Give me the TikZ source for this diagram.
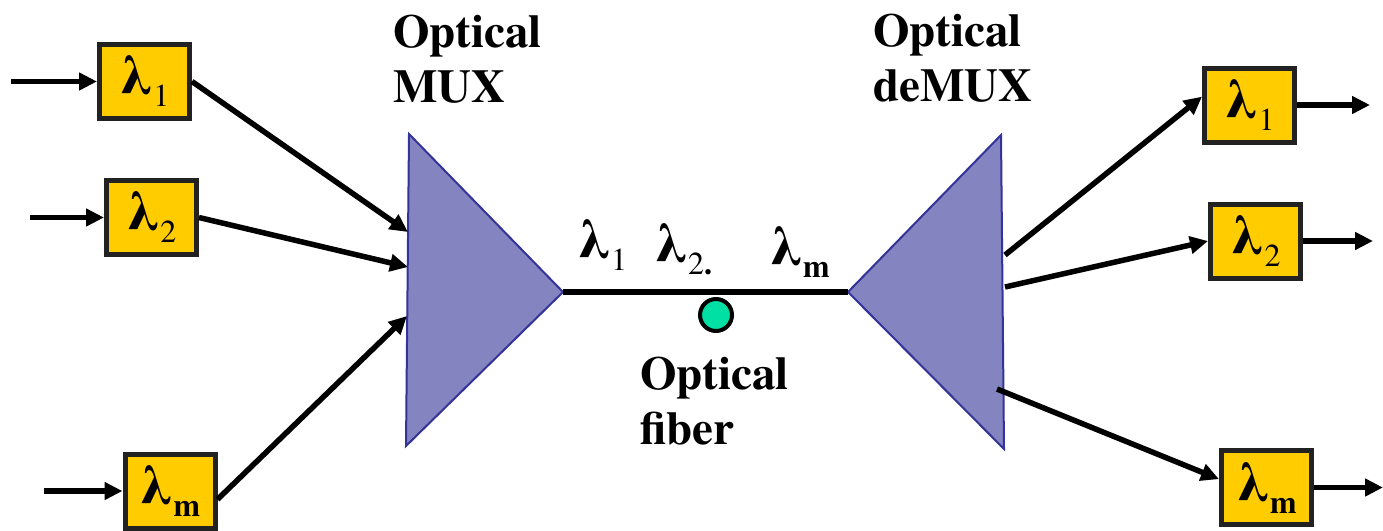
\documentclass[tikz,border=0pt]{standalone}
\usepackage{fontspec}
\setmainfont{texgyretermes}[Extension=.otf, UprightFont=*-regular, BoldFont=*-bold]
\usepackage{xcolor}
\usepackage{tikz}
\usetikzlibrary{arrows.meta}
\definecolor{figline}{RGB}{0,0,0}
\definecolor{figedge}{RGB}{34,34,34}
\definecolor{figbox}{RGB}{255,204,0}
\definecolor{figprism}{RGB}{132,132,192}
\definecolor{figprismline}{RGB}{51,51,153}
\definecolor{figcore}{RGB}{0,224,164}
\newcommand{\wl}[1]{{\fontsize{57}{57}\selectfont\bfseries λ}\raisebox{-12pt}{\fontsize{32}{32}\selectfont #1}}
\tikzset{
  wbox/.style ={draw=figedge, fill=figbox, line width=5pt, minimum width=90pt, minimum height=74pt, inner sep=0pt},
  prism/.style={draw=figprismline, fill=figprism, line width=2pt, line join=miter},
  lab/.style  ={font=\fontsize{47}{55}\selectfont\bfseries, align=left, inner sep=0pt, anchor=north west},
  wlab/.style ={inner sep=0pt, anchor=base west},
  ptr/.style  ={draw=figline, line width=5.5pt, -{Triangle[length=18pt,width=17pt]}},
  fib/.style  ={draw=figline, line width=5.5pt},
}
\begin{document}
\begin{tikzpicture}[x=1pt,y=-1pt]
  \useasboundingbox (0,0) rectangle (1383,530);
  % mux / demux
  \draw[prism] (409,134) -- (406,446) -- (563,292) -- cycle;
  \draw[prism] (1001,135) -- (1004,449) -- (848,292) -- cycle;
  \coordinate (mux) at (563,292);
  \coordinate (dmx) at (848,292);
  \coordinate (ma) at (408,232);
  \coordinate (mb) at (408,267);
  \coordinate (mc) at (407,316);
  \coordinate (da) at (1005,255);
  \coordinate (db) at (1005,287);
  \coordinate (dc) at (997,389);
  % fiber
  \draw[fib] (mux) -- (dmx);
  \node[circle, draw=figline, fill=figcore, line width=4pt, minimum size=32pt, inner sep=0pt] (core) at (716,315) {};
  \node[wlab] (w1) at (577,258) {\wl{1}};
  \node[wlab] (w2) at (654,262) {\wl{2\textbf{.}}};
  \node[wlab] (wm) at (769,265) {\wl{\textbf{m}}};
  % labels
  \node[lab] (muxlab) at (393,15) {Optical\\MUX};
  \node[lab] (dmxlab) at (873,14) {Optical\\deMUX};
  \node[lab] (fiblab) at (640,357) {Optical\\fiber};
  % inputs
  \node[wbox] (l1) at (144.5,81.5) {\wl{1}};
  \node[wbox] (l2) at (151.5,217.5) {\wl{2}};
  \node[wbox] (lm) at (170,491) {\wl{\textbf{m}}};
  \coordinate (in1) at (11,81.5);
  \coordinate (in2) at (30,217.5);
  \coordinate (inm) at (44,491);
  \draw[ptr] (in1) -- (l1.west);
  \draw[ptr] (in2) -- (l2.west);
  \draw[ptr] (inm) -- (lm.west);
  \draw[ptr] (l1.east) -- (ma);
  \draw[ptr] (l2.east) -- (mb);
  \draw[ptr] (lm.-10) -- (mc);
  % outputs
  \node[wbox] (r1) at (1249.5,105) {\wl{1}};
  \node[wbox] (r2) at (1255.5,241) {\wl{2}};
  \node[wbox] (rm) at (1266.5,487.5) {\wl{\textbf{m}}};
  \coordinate (o1) at (1370,105);
  \coordinate (o2) at (1373,241);
  \coordinate (om) at (1383,487.5);
  \draw[ptr] (da) -- (r1.170);
  \draw[ptr] (db) -- (r2.west);
  \draw[ptr] (dc) -- (rm.170);
  \draw[ptr] (r1.east) -- (o1);
  \draw[ptr] (r2.east) -- (o2);
  \draw[ptr] (rm.east) -- (om);
\end{tikzpicture}
\end{document}
